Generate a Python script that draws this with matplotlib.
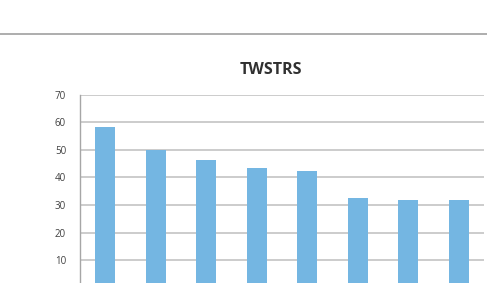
import matplotlib
matplotlib.use("Agg")
import matplotlib.pyplot as plt
from matplotlib.lines import Line2D

categories = ["1", "2", "3", "4", "5", "6", "7", "8"]
values = [58.2, 49.9, 46.2, 43.3, 42.3, 32.6, 31.9, 31.9]
yticks = [10, 20, 30, 40, 50, 60, 70]
title = "TWSTRS"

plt.rcParams['font.family'] = ['Open Sans', 'DejaVu Sans']

W, H = 487, 283
fig = plt.figure(figsize=(W / 100, H / 100), dpi=100)

# top separator line
fig.add_artist(Line2D([0, 486.5 / W], [1 - 34 / H, 1 - 34 / H], transform=fig.transFigure,
                      color='#a0a0a0', lw=1.2))

left, right = 80 / W, 484 / W
top, bottom = 1 - 94.7 / H, 1 - 287.9 / H
ax = fig.add_axes([left, bottom, right - left, top - bottom])

x = range(len(categories))
ax.bar(x, values, width=0.39, color='#74b6e2', zorder=3)
ax.set_xlim(-0.5, len(categories) - 0.5)
ax.set_ylim(0, 70)
ax.set_yticks(yticks)
ax.set_yticklabels([str(v) for v in yticks], fontsize=7, color='#404040')
ax.tick_params(axis='y', length=0, pad=10)
ax.set_xticks([])
ax.grid(axis='y', color='#bfbfbf', lw=1.1, zorder=0)
for s in ['top', 'right', 'bottom']:
    ax.spines[s].set_visible(False)
ax.spines['left'].set_color('#a6a6a6')
ax.spines['left'].set_linewidth(1.0)

fig.text(271 / W, 1 - 70 / H, title, ha='center', va='center', fontsize=11.5,
         fontweight='bold', color='#303030')

fig.savefig("out.png", dpi=100)
